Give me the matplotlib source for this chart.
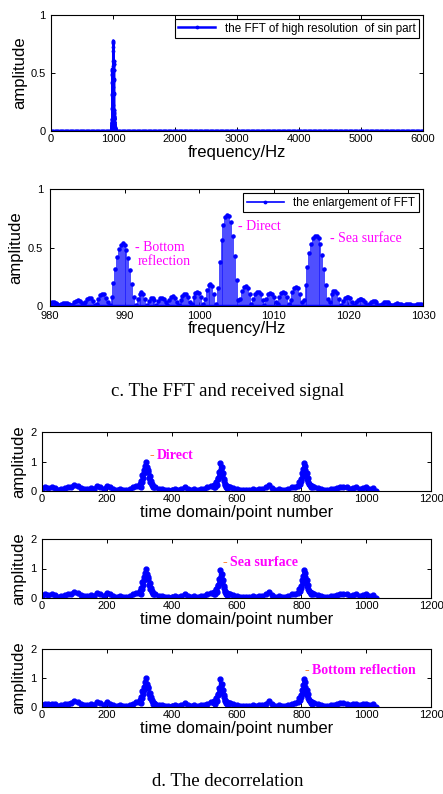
import numpy as np
import matplotlib
matplotlib.use('Agg')
import matplotlib.pyplot as plt

plt.rcParams['font.family'] = ['Liberation Sans', 'DejaVu Sans']

# enlarged FFT, 980..1030 Hz, one value every 0.25 Hz
fft_freq = np.arange(980, 1030.01, 0.25)
fft_amp = [
    0.02, 0.03, 0.032, 0.028, 0.015, 0.005, 0.015, 0.025,
    0.028, 0.025, 0.015, 0.005, 0.012, 0.03, 0.045, 0.05,
    0.042, 0.025, 0.005, 0.03, 0.06, 0.07, 0.065, 0.04,
    0.01, 0.02, 0.06, 0.095, 0.105, 0.1, 0.07, 0.03,
    0.01, 0.08, 0.2, 0.32, 0.42, 0.49, 0.525, 0.535,
    0.52, 0.48, 0.41, 0.31, 0.19, 0.08, 0.01, 0.06,
    0.105, 0.117, 0.1, 0.06, 0.01, 0.04, 0.068, 0.07,
    0.05, 0.01, 0.04, 0.065, 0.072, 0.06, 0.03, 0.01,
    0.05, 0.075, 0.082, 0.07, 0.035, 0.01, 0.05, 0.085,
    0.1, 0.1, 0.075, 0.03, 0.02, 0.075, 0.11, 0.122,
    0.115, 0.08, 0.02, 0.06, 0.14, 0.18, 0.19, 0.17,
    0.1, 0.02, 0.15, 0.38, 0.56, 0.69, 0.76, 0.78,
    0.77, 0.72, 0.6, 0.43, 0.22, 0.05, 0.06, 0.13,
    0.165, 0.172, 0.155, 0.1, 0.02, 0.06, 0.1, 0.12,
    0.12, 0.1, 0.05, 0.01, 0.06, 0.1, 0.11, 0.105,
    0.08, 0.03, 0.02, 0.08, 0.11, 0.12, 0.115, 0.08,
    0.02, 0.05, 0.12, 0.155, 0.16, 0.15, 0.1, 0.03,
    0.05, 0.18, 0.33, 0.45, 0.53, 0.58, 0.6, 0.6,
    0.58, 0.53, 0.44, 0.32, 0.18, 0.06, 0.03, 0.1,
    0.125, 0.13, 0.11, 0.06, 0.01, 0.04, 0.07, 0.08,
    0.078, 0.065, 0.035, 0.005, 0.03, 0.05, 0.06, 0.06,
    0.05, 0.03, 0.005, 0.02, 0.035, 0.042, 0.04, 0.03,
    0.012, 0.01, 0.02, 0.03, 0.033, 0.03, 0.02, 0.008,
    0.01, 0.018, 0.022, 0.02, 0.015, 0.008, 0.012, 0.018,
    0.02, 0.018, 0.012, 0.008, 0.012, 0.016, 0.017, 0.014,
    0.01,
]

# rest of the full spectrum is flat zero
flat_freq = np.arange(0, 6001, 20)
flat_freq = flat_freq[(flat_freq < 980) | (flat_freq > 1030)]
full_freq = np.concatenate([flat_freq, fft_freq])
full_amp = np.concatenate([np.zeros(len(flat_freq)), fft_amp])
order = np.argsort(full_freq)
full_freq, full_amp = full_freq[order], full_amp[order]

# decorrelation output (same trace in all three panels)
base_t = list(range(0, 300, 10)) + list(range(350, 530, 10)) + \
    list(range(580, 790, 10)) + list(range(840, 1040, 10))
base_a = [
    0.08, 0.12, 0.1, 0.12, 0.09, 0.05, 0.06, 0.1, 0.12, 0.15,
    0.22, 0.18, 0.1, 0.06, 0.08, 0.1, 0.08, 0.18, 0.15, 0.08,
    0.18, 0.12, 0.06, 0.05, 0.08, 0.05, 0.04, 0.07, 0.12, 0.16,
    0.12, 0.08, 0.06, 0.04, 0.05, 0.04, 0.06, 0.05, 0.08, 0.13,
    0.07, 0.05, 0.06, 0.04, 0.06, 0.08, 0.12, 0.16,
    0.14, 0.1, 0.07, 0.05, 0.04, 0.05, 0.04, 0.06, 0.05, 0.08,
    0.06, 0.12, 0.2, 0.1, 0.05, 0.06, 0.04, 0.05, 0.08, 0.12, 0.15,
    0.15, 0.1, 0.06, 0.05, 0.04, 0.06, 0.08, 0.1, 0.14, 0.15,
    0.12, 0.08, 0.1, 0.12, 0.06, 0.1, 0.12, 0.08, 0.1, 0.01,
]
peak_t = list(range(300, 346, 2)) + list(range(530, 578, 2)) + list(range(790, 836, 2))
peak_a = [
    0.18, 0.25, 0.15, 0.35, 0.3, 0.55, 0.45, 0.7, 0.6, 0.85, 0.75, 1.0,
    0.8, 0.65, 0.7, 0.45, 0.5, 0.3, 0.35, 0.2, 0.25, 0.12, 0.15,
    0.15, 0.2, 0.12, 0.25, 0.3, 0.2, 0.45, 0.4, 0.65, 0.55, 0.95, 0.7,
    0.8, 0.5, 0.6, 0.35, 0.4, 0.2, 0.25, 0.15, 0.18, 0.1, 0.12, 0.14,
    0.18, 0.22, 0.3, 0.25, 0.4, 0.35, 0.6, 0.5, 0.75, 0.95, 0.7, 0.85,
    0.55, 0.6, 0.4, 0.45, 0.3, 0.25, 0.2, 0.22, 0.15, 0.18, 0.12,
]
sig_t = np.array(base_t + peak_t)
sig_a = np.array(base_a + peak_a)
order = np.argsort(sig_t)
sig_t, sig_a = sig_t[order], sig_a[order]

path_names = ['Direct', 'Sea surface', 'Bottom reflection']
path_pos = [(333, 1.2), (558, 1.2), (811, 1.27)]

W, H = 443, 794
fig = plt.figure(figsize=(W / 100, H / 100), dpi=100)

def box(l, t, r, b):
    return fig.add_axes([l / W, 1 - b / H, (r - l) / W, (b - t) / H])

def matlab_style(ax, xpad=2):
    ax.tick_params(direction='in', top=True, right=True, length=3,
                   labelsize=8, width=0.7)
    ax.tick_params(axis='y', pad=4)
    ax.tick_params(axis='x', pad=xpad)
    for s in ax.spines.values():
        s.set_linewidth(0.8)

# full FFT
ax1 = box(51, 15, 423, 131)
ax1.plot(full_freq, full_amp, '.-', color='blue', lw=1.8, ms=3.5,
         label='the FFT of high resolution  of sin part')
ax1.set_xlim(0, 6000)
ax1.set_ylim(0, 1)
ax1.set_yticks([0, 0.5, 1])
ax1.set_yticklabels(['0', '0.5', '1'])
ax1.set_xlabel('frequency/Hz', fontsize=12, labelpad=1)
ax1.set_ylabel('amplitude', fontsize=12, labelpad=2)
matlab_style(ax1)
lg = ax1.legend(loc='upper right', fontsize=8.4, fancybox=False, edgecolor='black',
                framealpha=1, handlelength=3.2, borderaxespad=0.35, borderpad=0.3)
lg.get_frame().set_linewidth(0.8)

# enlarged FFT
ax2 = box(50, 189, 423, 306)
ax2.vlines(fft_freq, 0, fft_amp, color='#1a1aff', lw=1.1)
ax2.plot(fft_freq, fft_amp, '.', color='blue', ms=4.5)
ax2.plot(fft_freq, np.zeros(len(fft_freq)), '-', color='blue', lw=2.5)
ax2.plot([], [], '.-', color='blue', lw=1.2, ms=3.5, label='the enlargement of FFT')
ax2.set_xlim(980, 1030)
ax2.set_ylim(0, 1)
ax2.set_yticks([0, 0.5, 1])
ax2.set_yticklabels(['0', '0.5', '1'])
ax2.set_xlabel('frequency/Hz', fontsize=12, labelpad=0)
ax2.set_ylabel('amplitude', fontsize=12, labelpad=3)
matlab_style(ax2, xpad=3.5)
ax2.tick_params(axis='y', pad=5)
lg = ax2.legend(loc='upper right', fontsize=8.4, fancybox=False, edgecolor='black',
                framealpha=1, handlelength=3.2, borderaxespad=0.35, borderpad=0.3)
lg.get_frame().set_linewidth(0.8)
serif = ['Liberation Serif', 'DejaVu Serif']
ax2.text(991.4, 0.50, '- Bottom', color='magenta', fontsize=10, family=serif, va='center')
ax2.text(991.8, 0.38, 'reflection', color='magenta', fontsize=10, family=serif, va='center')
ax2.text(1005.2, 0.68, '- Direct', color='magenta', fontsize=10, family=serif, va='center')
ax2.text(1017.5, 0.58, '- Sea surface', color='magenta', fontsize=10, family=serif, va='center')

fig.text(228 / W, 1 - 392 / H, 'c. The FFT and received signal', family=serif,
         fontsize=13.5, ha='center', va='center')

# decorrelation panels
rows = [(432, 491), (539, 598), (649, 707)]
for (top, bot), name, (px, py) in zip(rows, path_names, path_pos):
    ax = box(42, top, 431, bot)
    ax.plot(sig_t, sig_a, '.-', color='blue', lw=1.8, ms=7)
    ax.set_xlim(0, 1200)
    ax.set_ylim(0, 2)
    ax.set_yticks([0, 1, 2])
    ax.set_xticks(range(0, 1201, 200))
    ax.set_xlabel('time domain/point number', fontsize=12, labelpad=1)
    ax.set_ylabel('amplitude', fontsize=12, labelpad=3)
    matlab_style(ax)
    ax.text(px, py, '-', color='#ff6600', fontsize=10, family=serif,
            fontweight='bold', va='center')
    ax.text(px + 22, py, name, color='magenta', fontsize=10, family=serif,
            fontweight='bold', va='center')

fig.text(228 / W, 1 - 782 / H, 'd. The decorrelation', family=serif,
         fontsize=13.5, ha='center', va='center')

fig.savefig('out.png', dpi=100)
